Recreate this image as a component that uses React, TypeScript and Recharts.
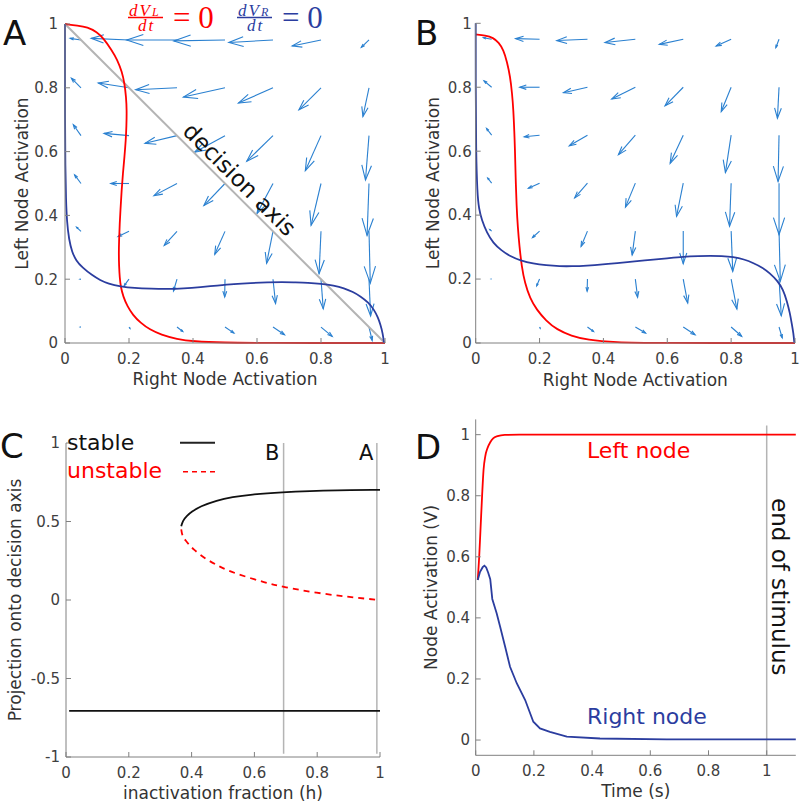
import React from "react";
import { ComposedChart, Line, XAxis, YAxis, ReferenceLine } from "recharts";

const RED = "#ff0000";
const BLUE = "#2b3d9f";
const ARROW = "#2a80d0";
const GRAY = "#b4b4b4";
const AXIS = "#808080";
const TICK_TXT = "#404040";
const FONT = "DejaVu Sans, sans-serif";
const SERIF = "Liberation Serif, DejaVu Serif, serif";

// quiver grid (tails), rows listed top to bottom
const quiverX = [0.05, 0.2, 0.35, 0.5, 0.65, 0.8, 0.95];
const quiverY = [0.95, 0.8, 0.65, 0.5, 0.35, 0.2, 0.05];

// panel A vectors (h = 1)
const uA = [
  [-0.034, -0.118, -0.157, -0.16, -0.138, -0.09, -0.024],
  [-0.03, -0.096, -0.129, -0.13, -0.108, -0.069, -0.019],
  [-0.024, -0.078, -0.1, -0.095, -0.082, -0.049, -0.011],
  [-0.02, -0.057, -0.072, -0.066, -0.05, -0.031, -0.006],
  [-0.014, -0.034, -0.04, -0.032, -0.02, -0.006, 0.004],
  [-0.003, -0.015, -0.011, -0.001, 0.008, 0.007, 0.005],
  [-0.002, 0.003, 0.018, 0.028, 0.036, 0.035, 0.01],
];
const vA = [
  [0.005, 0.005, 0, -0.003, -0.008, -0.019, -0.023],
  [0.03, 0.015, -0.006, -0.029, -0.048, -0.069, -0.09],
  [0.034, 0.007, -0.024, -0.052, -0.08, -0.11, -0.139],
  [0.027, 0, -0.038, -0.069, -0.094, -0.131, -0.163],
  [0.013, -0.016, -0.044, -0.072, -0.1, -0.133, -0.163],
  [0, -0.02, -0.037, -0.056, -0.076, -0.093, -0.115],
  [0, -0.004, -0.014, -0.019, -0.024, -0.029, -0.042],
];

// panel B vectors (h = 0.7)
const uB = [
  [-0.026, -0.075, -0.096, -0.095, -0.075, -0.047, -0.01],
  [-0.024, -0.062, -0.075, -0.074, -0.057, -0.031, -0.005],
  [-0.016, -0.048, -0.057, -0.053, -0.041, -0.018, -0.003],
  [-0.0125, -0.035, -0.04, -0.031, -0.021, -0.005, 0],
  [-0.006, -0.022, -0.02, -0.01, 0, 0.005, 0.004],
  [-0.001, -0.009, -0.001, 0.007, 0.014, 0.018, 0.007],
  [0, 0.002, 0.019, 0.032, 0.037, 0.033, 0.01],
];
const vB = [
  [0.005, 0.002, -0.004, -0.01, -0.016, -0.021, -0.026],
  [0.02, 0, -0.017, -0.037, -0.058, -0.076, -0.097],
  [0.021, -0.005, -0.033, -0.061, -0.088, -0.117, -0.145],
  [0.016, -0.016, -0.046, -0.075, -0.104, -0.135, -0.161],
  [0.005, -0.02, -0.048, -0.075, -0.102, -0.126, -0.157],
  [0, -0.021, -0.038, -0.057, -0.075, -0.094, -0.115],
  [0, -0.004, -0.014, -0.019, -0.024, -0.029, -0.034],
];

// nullclines
const redA = [
  { x: 0, y: 1 }, { x: 0.04, y: 0.995 }, { x: 0.07, y: 0.99 }, { x: 0.1, y: 0.975 },
  { x: 0.12, y: 0.955 }, { x: 0.145, y: 0.92 }, { x: 0.164, y: 0.887 }, { x: 0.178, y: 0.85 },
  { x: 0.186, y: 0.814 }, { x: 0.191, y: 0.77 }, { x: 0.193, y: 0.73 }, { x: 0.192, y: 0.68 },
  { x: 0.19, y: 0.637 }, { x: 0.186, y: 0.585 }, { x: 0.181, y: 0.532 }, { x: 0.177, y: 0.48 },
  { x: 0.174, y: 0.428 }, { x: 0.171, y: 0.376 }, { x: 0.169, y: 0.324 }, { x: 0.168, y: 0.28 },
  { x: 0.169, y: 0.24 }, { x: 0.171, y: 0.205 }, { x: 0.174, y: 0.177 }, { x: 0.182, y: 0.145 },
  { x: 0.195, y: 0.115 }, { x: 0.212, y: 0.088 }, { x: 0.236, y: 0.063 }, { x: 0.265, y: 0.042 },
  { x: 0.3, y: 0.026 }, { x: 0.35, y: 0.012 }, { x: 0.4, y: 0.005 }, { x: 0.5, y: 0.001 },
  { x: 0.6, y: 0 }, { x: 1, y: 0 },
];
const blueA = [
  { x: 0, y: 1 }, { x: 0, y: 0.9 }, { x: 0, y: 0.7 }, { x: 0.001, y: 0.55 }, { x: 0.003, y: 0.45 },
  { x: 0.006, y: 0.38 }, { x: 0.0125, y: 0.324 }, { x: 0.022, y: 0.285 }, { x: 0.035, y: 0.258 },
  { x: 0.054, y: 0.237 }, { x: 0.085, y: 0.212 }, { x: 0.11, y: 0.197 }, { x: 0.135, y: 0.186 },
  { x: 0.174, y: 0.177 }, { x: 0.216, y: 0.172 }, { x: 0.27, y: 0.17 }, { x: 0.32, y: 0.169 },
  { x: 0.37, y: 0.171 }, { x: 0.424, y: 0.175 }, { x: 0.475, y: 0.18 }, { x: 0.528, y: 0.185 },
  { x: 0.58, y: 0.188 }, { x: 0.632, y: 0.19 }, { x: 0.68, y: 0.191 }, { x: 0.716, y: 0.19 },
  { x: 0.76, y: 0.189 }, { x: 0.8, y: 0.186 }, { x: 0.84, y: 0.18 }, { x: 0.872, y: 0.172 },
  { x: 0.9, y: 0.16 }, { x: 0.924, y: 0.146 }, { x: 0.948, y: 0.127 }, { x: 0.966, y: 0.104 },
  { x: 0.978, y: 0.08 }, { x: 0.986, y: 0.057 }, { x: 0.993, y: 0.03 }, { x: 0.997, y: 0 },
];
const redB = [
  { x: 0, y: 0.965 }, { x: 0.03, y: 0.962 }, { x: 0.055, y: 0.955 }, { x: 0.072, y: 0.94 },
  { x: 0.087, y: 0.917 }, { x: 0.098, y: 0.88 }, { x: 0.108, y: 0.833 }, { x: 0.114, y: 0.78 },
  { x: 0.118, y: 0.729 }, { x: 0.121, y: 0.66 }, { x: 0.123, y: 0.604 }, { x: 0.125, y: 0.52 },
  { x: 0.128, y: 0.427 }, { x: 0.132, y: 0.36 }, { x: 0.137, y: 0.302 }, { x: 0.144, y: 0.24 },
  { x: 0.154, y: 0.1875 }, { x: 0.17, y: 0.14 }, { x: 0.191, y: 0.104 }, { x: 0.22, y: 0.07 },
  { x: 0.254, y: 0.042 }, { x: 0.3, y: 0.022 }, { x: 0.348, y: 0.01 }, { x: 0.44, y: 0.002 },
  { x: 0.55, y: 0 }, { x: 1, y: 0 },
];
const blueB = [
  { x: 0, y: 1 }, { x: 0, y: 0.8 }, { x: 0.001, y: 0.6 }, { x: 0.005, y: 0.469 }, { x: 0.01, y: 0.42 },
  { x: 0.019, y: 0.385 }, { x: 0.035, y: 0.345 }, { x: 0.055, y: 0.3125 }, { x: 0.08, y: 0.29 },
  { x: 0.108, y: 0.271 }, { x: 0.14, y: 0.258 }, { x: 0.18, y: 0.248 }, { x: 0.22, y: 0.243 },
  { x: 0.264, y: 0.24 }, { x: 0.3, y: 0.24 }, { x: 0.348, y: 0.242 }, { x: 0.4, y: 0.246 },
  { x: 0.44, y: 0.25 }, { x: 0.5, y: 0.255 }, { x: 0.546, y: 0.26 }, { x: 0.6, y: 0.265 },
  { x: 0.65, y: 0.27 }, { x: 0.7, y: 0.272 }, { x: 0.734, y: 0.273 }, { x: 0.77, y: 0.272 },
  { x: 0.807, y: 0.269 }, { x: 0.84, y: 0.262 }, { x: 0.87, y: 0.25 }, { x: 0.9, y: 0.235 },
  { x: 0.92, y: 0.219 }, { x: 0.945, y: 0.195 }, { x: 0.963, y: 0.167 }, { x: 0.975, y: 0.13 },
  { x: 0.984, y: 0.094 }, { x: 0.99, y: 0.06 }, { x: 0.995, y: 0.031 }, { x: 0.998, y: 0 },
];
const decisionAxis = [{ x: 0, y: 1 }, { x: 1, y: 0 }];

// panel C bifurcation
const stableUpper = [
  { x: 0.367, y: 0.47 }, { x: 0.372, y: 0.505 }, { x: 0.384, y: 0.535 }, { x: 0.4, y: 0.562 },
  { x: 0.427, y: 0.596 }, { x: 0.48, y: 0.635 }, { x: 0.53, y: 0.656 }, { x: 0.586, y: 0.672 },
  { x: 0.692, y: 0.687 }, { x: 0.78, y: 0.694 }, { x: 0.851, y: 0.698 }, { x: 1, y: 0.702 },
];
const unstable = [
  { x: 0.367, y: 0.45 }, { x: 0.37, y: 0.41 }, { x: 0.379, y: 0.383 }, { x: 0.405, y: 0.321 },
  { x: 0.448, y: 0.257 }, { x: 0.49, y: 0.212 }, { x: 0.533, y: 0.172 }, { x: 0.639, y: 0.108 },
  { x: 0.692, y: 0.083 }, { x: 0.798, y: 0.045 }, { x: 0.904, y: 0.018 }, { x: 1, y: 0 },
];
const stableLower = [{ x: 0.01, y: -0.706 }, { x: 1, y: -0.706 }];
const hMarks = [0.693, 0.99];

// panel D time courses
const leftNode = [
  { x: 0.007, y: 0.524 }, { x: 0.012, y: 0.6 }, { x: 0.017, y: 0.7 }, { x: 0.022, y: 0.8 },
  { x: 0.027, y: 0.885 }, { x: 0.033, y: 0.93 }, { x: 0.04, y: 0.955 }, { x: 0.05, y: 0.975 },
  { x: 0.06, y: 0.988 }, { x: 0.075, y: 0.995 }, { x: 0.1, y: 0.999 }, { x: 0.15, y: 1 },
  { x: 1.1, y: 1 },
];
const rightNode = [
  { x: 0.007, y: 0.524 }, { x: 0.015, y: 0.551 }, { x: 0.024, y: 0.566 }, { x: 0.03, y: 0.571 },
  { x: 0.036, y: 0.565 }, { x: 0.043, y: 0.548 }, { x: 0.05, y: 0.527 }, { x: 0.057, y: 0.462 },
  { x: 0.072, y: 0.415 }, { x: 0.084, y: 0.371 }, { x: 0.101, y: 0.306 }, { x: 0.118, y: 0.24 },
  { x: 0.141, y: 0.186 }, { x: 0.17, y: 0.131 }, { x: 0.198, y: 0.06 }, { x: 0.221, y: 0.038 },
  { x: 0.255, y: 0.027 }, { x: 0.313, y: 0.011 }, { x: 0.427, y: 0.005 }, { x: 0.656, y: 0.002 },
  { x: 1.1, y: 0.002 },
];
const stimulusEnd = 1;

const unitTicks = [0, 0.2, 0.4, 0.6, 0.8, 1];
const bifTicksY = [-1, -0.5, 0, 0.5, 1];

const buildArrows = (u: number[][], v: number[][]) =>
  quiverY.flatMap((y, i) => quiverX.map((x, j) => ({ x, y, u: u[i][j], v: v[i][j] })));

const arrowsA = buildArrows(uA, vA);
const arrowsB = buildArrows(uB, vB);

// matlab-style quiver head
function ArrowShape(props: any) {
  const { x1, y1, x2, y2 } = props;
  const dx = x2 - x1;
  const dy = y2 - y1;
  const a = 0.33;
  const b = 0.33;
  const h1 = `${x2 - a * (dx + b * dy)},${y2 - a * (dy - b * dx)}`;
  const h2 = `${x2 - a * (dx - b * dy)},${y2 - a * (dy + b * dx)}`;
  return (
    <g>
      <line x1={x1} y1={y1} x2={x2} y2={y2} stroke={ARROW} strokeWidth={1.1} />
      <polyline points={`${h1} ${x2},${y2} ${h2}`} fill="none" stroke={ARROW} strokeWidth={1.1} />
    </g>
  );
}

const tickStyle = { fill: TICK_TXT, fontSize: 15, fontFamily: FONT };
const labelStyle = { fill: "#333", fontSize: 17, fontFamily: FONT, textAnchor: "middle" as const };

type PhaseProps = {
  arrows: { x: number; y: number; u: number; v: number }[];
  red: { x: number; y: number }[];
  blue: { x: number; y: number }[];
  diagonal?: boolean;
  top: number;
  right: number;
  yWidth: number;
  yTickMargin: number;
  yLabelOffset: number;
  xLabelOffset: number;
};

function PhasePlane(p: PhaseProps) {
  return (
    <ComposedChart width={400} height={400} margin={{ top: p.top, right: p.right, bottom: 0, left: 0 }}>
      <XAxis
        type="number"
        dataKey="x"
        domain={[0, 1]}
        ticks={unitTicks}
        interval={0}
        height={57}
        stroke={AXIS}
        tick={tickStyle}
        tickSize={-5}
        tickMargin={15}
        label={{ value: "Right Node Activation", position: "insideBottom", offset: p.xLabelOffset, style: labelStyle }}
      />
      <YAxis
        type="number"
        domain={[0, 1]}
        ticks={unitTicks}
        interval={0}
        width={p.yWidth}
        stroke={AXIS}
        tick={tickStyle}
        tickSize={-5}
        tickMargin={p.yTickMargin}
        label={{ value: "Left Node Activation", angle: -90, position: "insideLeft", offset: p.yLabelOffset, style: labelStyle }}
      />
      {p.arrows.map((a, i) => (
        <ReferenceLine
          key={i}
          segment={[{ x: a.x, y: a.y }, { x: a.x + a.u, y: a.y + a.v }]}
          shape={ArrowShape}
          ifOverflow="visible"
        />
      ))}
      {p.diagonal && (
        <Line data={decisionAxis} dataKey="y" type="linear" stroke={GRAY} strokeWidth={2} dot={false} activeDot={false} isAnimationActive={false} />
      )}
      <Line data={p.red} dataKey="y" type="basis" stroke={RED} strokeWidth={1.8} dot={false} activeDot={false} isAnimationActive={false} />
      <Line data={p.blue} dataKey="y" type="basis" stroke={BLUE} strokeWidth={1.8} dot={false} activeDot={false} isAnimationActive={false} />
    </ComposedChart>
  );
}

function Bifurcation() {
  return (
    <ComposedChart width={400} height={403} margin={{ top: 43, right: 20, bottom: 0, left: 0 }}>
      <XAxis
        type="number"
        dataKey="x"
        domain={[0, 1]}
        ticks={unitTicks}
        interval={0}
        height={46}
        stroke={AXIS}
        tick={tickStyle}
        tickSize={-5}
        tickMargin={15}
        label={{ value: "inactivation fraction (h)", position: "insideBottom", offset: 4, style: labelStyle }}
      />
      <YAxis
        type="number"
        domain={[-1, 1]}
        ticks={bifTicksY}
        interval={0}
        width={66}
        stroke={AXIS}
        tick={tickStyle}
        tickSize={-5}
        tickMargin={11}
        label={{ value: "Projection onto decision axis", angle: -90, position: "insideLeft", offset: 14.5, style: labelStyle }}
      />
      {hMarks.map((h) => (
        <ReferenceLine key={h} segment={[{ x: h, y: -0.98 }, { x: h, y: 1 }]} stroke={GRAY} strokeWidth={1.5} ifOverflow="visible" />
      ))}
      <Line data={stableUpper} dataKey="y" type="basis" stroke="#111" strokeWidth={1.8} dot={false} activeDot={false} isAnimationActive={false} />
      <Line data={unstable} dataKey="y" type="basis" stroke={RED} strokeWidth={1.8} strokeDasharray="6 5" dot={false} activeDot={false} isAnimationActive={false} />
      <Line data={stableLower} dataKey="y" type="linear" stroke="#111" strokeWidth={1.8} dot={false} activeDot={false} isAnimationActive={false} />
    </ComposedChart>
  );
}

function TimeCourse() {
  return (
    <ComposedChart width={400} height={403} margin={{ top: 19.4, right: 4.2, bottom: 0, left: 0 }}>
      <XAxis
        type="number"
        dataKey="x"
        domain={[0, 1.1]}
        ticks={unitTicks}
        interval={0}
        height={47.7}
        stroke={AXIS}
        tick={tickStyle}
        tickSize={-5}
        tickMargin={14.7}
        label={{ value: "Time (s)", position: "insideBottom", offset: 5.6, style: labelStyle }}
      />
      <YAxis
        type="number"
        domain={[-0.05, 1.05]}
        ticks={unitTicks}
        interval={0}
        width={75.7}
        stroke={AXIS}
        tick={tickStyle}
        tickSize={-5}
        tickMargin={10.7}
        label={{ value: "Node Activation (V)", angle: -90, position: "insideLeft", offset: 31.2, style: labelStyle }}
      />
      <ReferenceLine segment={[{ x: stimulusEnd, y: -0.05 }, { x: stimulusEnd, y: 1.03 }]} stroke={GRAY} strokeWidth={1.5} ifOverflow="visible" />
      <Line data={leftNode} dataKey="y" type="monotone" stroke={RED} strokeWidth={1.8} dot={false} activeDot={false} isAnimationActive={false} />
      <Line data={rightNode} dataKey="y" type="linear" stroke={BLUE} strokeWidth={1.8} dot={false} activeDot={false} isAnimationActive={false} />
    </ComposedChart>
  );
}

// d V_sub / dt = 0, laid out by hand as a single text run
function Fraction({ x, sub, color }: { x: number; sub: string; color: string }) {
  return (
    <g fill={color} fontFamily={SERIF}>
      <text fontStyle="italic" fontSize={17} letterSpacing={2}>
        <tspan x={x + 1} y={15.5}>dV</tspan>
        <tspan fontSize={12} letterSpacing={0}>{sub}</tspan>
        <tspan x={x + 10} y={31}>dt</tspan>
      </text>
      <line x1={x} x2={x + 35} y1={17.5} y2={17.5} stroke={color} strokeWidth={1.3} />
      <text x={x + 45} y={28} fontSize={31}>= 0</text>
    </g>
  );
}

function Annotations() {
  return (
    <svg width={800} height={803} style={{ position: "absolute", left: 0, top: 0, pointerEvents: "none" }}>
      <g fontFamily={FONT} fill="#111">
        <text x={3} y={45} fontSize={34}>A</text>
        <text x={415} y={45} fontSize={34}>B</text>
        <text x={0} y={458} fontSize={34}>C</text>
        <text x={415} y={459} fontSize={34}>D</text>
        <text x={234} y={185} fontSize={23} textAnchor="middle" transform="rotate(45, 234, 185)">decision axis</text>
        <text x={67} y={450} fontSize={22}>stable</text>
        <text x={67} y={478} fontSize={22} fill={RED}>unstable</text>
        <line x1={180} x2={215} y1={442.7} y2={442.7} stroke="#222" strokeWidth={2} />
        <line x1={183} x2={216} y1={471.7} y2={471.7} stroke={RED} strokeWidth={1.6} strokeDasharray="5 4" />
        <text x={265} y={460} fontSize={21}>B</text>
        <text x={359} y={460} fontSize={21}>A</text>
        <text x={587} y={458} fontSize={22} fill={RED}>Left node</text>
        <text x={587} y={724} fontSize={22} fill={BLUE}>Right node</text>
        <text x={772} y={498} fontSize={23} transform="rotate(90, 772, 498)">end of stimulus</text>
      </g>
      <Fraction x={128} sub="L" color={RED} />
      <Fraction x={237} sub="R" color={BLUE} />
    </svg>
  );
}

export default function App() {
  return (
    <div style={{ position: "absolute", left: 0, top: 0, width: 800, height: 803, background: "#fff", fontFamily: FONT }}>
      <div style={{ position: "absolute", left: 0, top: 0 }}>
        <PhasePlane arrows={arrowsA} red={redA} blue={blueA} diagonal top={24} right={15} yWidth={65} yTickMargin={12} yLabelOffset={21.7} xLabelOffset={15} />
      </div>
      <div style={{ position: "absolute", left: 400, top: 0 }}>
        <PhasePlane arrows={arrowsB} red={redB} blue={blueB} top={23.3} right={5} yWidth={75.7} yTickMargin={9} yLabelOffset={33.3} xLabelOffset={14.3} />
      </div>
      <div style={{ position: "absolute", left: 0, top: 400 }}>
        <Bifurcation />
      </div>
      <div style={{ position: "absolute", left: 400, top: 400 }}>
        <TimeCourse />
      </div>
      <Annotations />
    </div>
  );
}
